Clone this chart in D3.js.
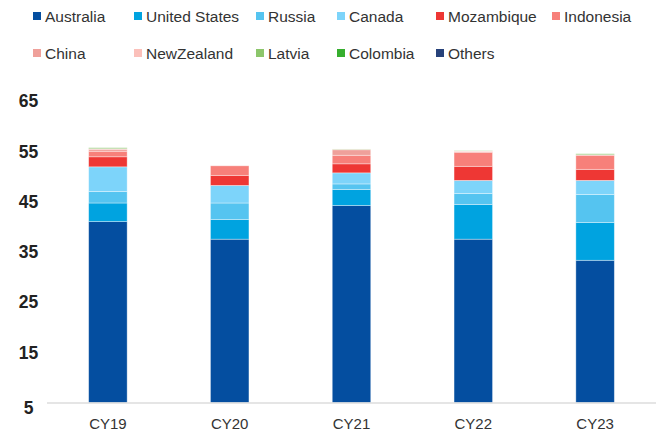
<!DOCTYPE html>
<html>
<head>
<meta charset="utf-8">
<script src="https://cdn.jsdelivr.net/npm/d3@7"></script>
<style>
  html, body { margin: 0; padding: 0; background: #fff; }
  svg { display: block; font-family: "Liberation Sans", Arial, sans-serif; }
</style>
</head>
<body>
<svg id="chart" width="660" height="434"></svg>
<script>
// Calendar years on the x axis
const categories = ["CY19", "CY20", "CY21", "CY22", "CY23"];

// Volumes by origin, stacked bottom to top
const australia    = [41.0, 37.5, 44.2, 37.5, 33.3];
const unitedStates = [3.7, 3.9, 3.2, 6.9, 7.5];
const russia       = [2.3, 3.3, 1.1, 2.2, 5.6];
const canada       = [4.9, 3.5, 2.2, 2.6, 2.8];
const mozambique   = [2.0, 2.0, 1.8, 2.8, 2.2];
const indonesia    = [1.1, 1.9, 1.7, 2.8, 2.8];
const china        = [0.4, 0.0, 1.1, 0.15, 0.1];
const newZealand   = [0.1, 0.0, 0.1, 0.1, 0.0];
const latvia       = [0.2, 0.0, 0.05, 0.05, 0.2];
const colombia     = [0.0, 0.0, 0.0, 0.0, 0.0];
const others       = [0.0, 0.0, 0.0, 0.0, 0.0];

const yTicks = [5, 15, 25, 35, 45, 55, 65];

const seriesNames = ["Australia", "United States", "Russia", "Canada", "Mozambique",
  "Indonesia", "China", "NewZealand", "Latvia", "Colombia", "Others"];
const seriesValues = [australia, unitedStates, russia, canada, mozambique,
  indonesia, china, newZealand, latvia, colombia, others];
const seriesColors = ["#044ea0", "#00a3e0", "#55c4f0", "#7dd4fa", "#ee3734",
  "#f7807a", "#efa09a", "#fbc0ba", "#8cc66b", "#36ae2e", "#27427a"];

const svg = d3.select("#chart");

const rows = categories.map((c, i) => {
  const r = { cat: c };
  seriesNames.forEach((n, k) => { r[n] = seriesValues[k][i]; });
  return r;
});

const stack = d3.stack().keys(seriesNames);
const layers = stack(rows);

const x = d3.scaleBand()
  .domain(categories)
  .range([47, 656])
  .paddingInner(0.684)
  .paddingOuter(0.342);

const y = d3.scaleLinear()
  .domain([5, 65])
  .range([402.5, 101]);

// Clip bars at the axis floor
svg.append("defs").append("clipPath").attr("id", "plot")
  .append("rect").attr("x", 0).attr("y", 0).attr("width", 660).attr("height", y(5));

const barsG = svg.append("g").attr("clip-path", "url(#plot)");
layers.forEach((layer, k) => {
  barsG.append("g")
    .attr("fill", seriesColors[k])
    .selectAll("rect")
    .data(layer.filter(d => d[1] - d[0] > 0))
    .join("rect")
    .attr("x", d => x(d.data.cat))
    .attr("width", x.bandwidth())
    .attr("y", d => y(d[1]))
    .attr("height", d => y(d[0]) - y(d[1]))
    .attr("stroke", "rgba(255,255,255,0.45)")
    .attr("stroke-width", 0.8);
});

// Baseline
svg.append("line")
  .attr("x1", 47).attr("x2", 656)
  .attr("y1", y(5) + 0.5).attr("y2", y(5) + 0.5)
  .attr("stroke", "#dcdcdc").attr("stroke-width", 1.5);

// Y tick labels
svg.append("g")
  .selectAll("text")
  .data(yTicks)
  .join("text")
  .attr("x", 28.5)
  .attr("y", d => y(d) + (d === 5 ? 5 : 0))
  .attr("dy", "0.36em")
  .attr("text-anchor", "middle")
  .attr("font-size", 17.5)
  .attr("font-weight", "bold")
  .attr("fill", "#222")
  .text(d => d);

// X labels
const xAxis = d3.axisBottom(x).tickSize(0).tickPadding(0);
const xg = svg.append("g").attr("transform", `translate(0,${y(5)})`).call(xAxis);
xg.select(".domain").remove();
xg.selectAll("text")
  .attr("y", 26)
  .attr("dy", 0)
  .attr("font-size", 15)
  .attr("font-family", "Liberation Sans, Arial, sans-serif")
  .attr("fill", "#333");

// Legend in two rows
const legendX = [26, 105, 200, 274, 343, 433];
const legendY = [16, 53];
const legend = svg.append("g");
seriesNames.forEach((n, i) => {
  const row = i < 6 ? 0 : 1;
  const col = i < 6 ? i : i - 6;
  const g = legend.append("g")
    .attr("transform", `translate(${[33, 134, 256, 337, 436, 552][col]},${legendY[row]})`);
  g.append("rect").attr("x", 0).attr("y", -4).attr("width", 8).attr("height", 8)
    .attr("fill", seriesColors[i]);
  g.append("text").attr("x", 12).attr("y", 0).attr("dy", "0.36em")
    .attr("font-size", 15.5).attr("fill", "#333").text(n);
});
</script>
</body>
</html>
